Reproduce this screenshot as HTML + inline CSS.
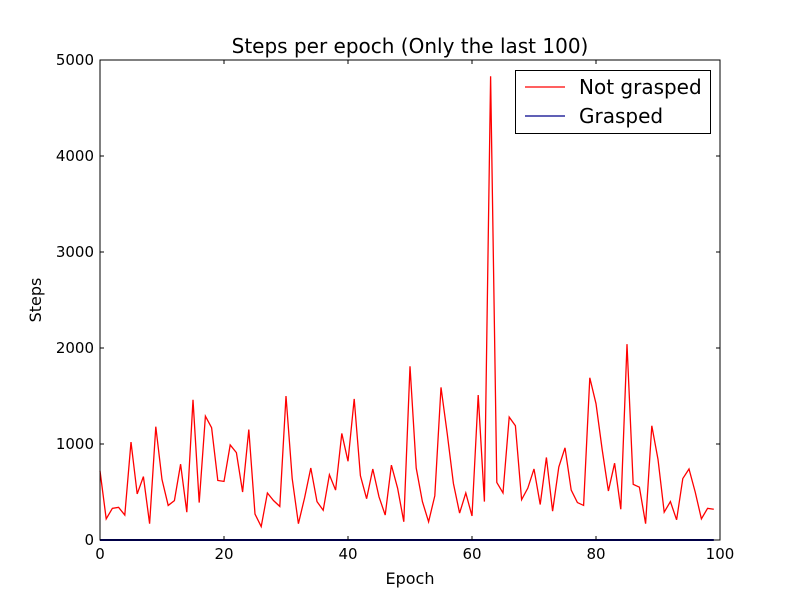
<!DOCTYPE html>
<html><head><meta charset="utf-8"><style>body{margin:0;background:#fff}svg{display:block;font-family:"DejaVu Sans","Liberation Sans",sans-serif}</style></head>
<body>
<svg id="chart" width="800" height="600">
<rect width="800" height="600" fill="#fff"/>
<g id="marks"></g>
<rect x="100" y="60" width="620" height="480" fill="none" stroke="#000" stroke-width="1"/>
<g id="ticks"></g>
<text x="410" y="53" text-anchor="middle" font-size="20">Steps per epoch (Only the last 100)</text>
<text x="410" y="584" text-anchor="middle" font-size="16">Epoch</text>
<text x="41" y="300" text-anchor="middle" font-size="16" transform="rotate(-90 41 300)">Steps</text>
<g>
<rect x="515.5" y="70.5" width="195" height="63" fill="#fff" stroke="#000"/>
<g><line x1="525" y1="87" x2="565" y2="87" stroke="red" stroke-width="1.3"/><text x="579" y="94" font-size="20">Not grasped</text></g>
<g><line x1="525" y1="116" x2="565" y2="116" stroke="#00008b" stroke-width="1.3"/><text x="579" y="123" font-size="20">Grasped</text></g>
</g>
</svg>
<script>
const notGrasped=[720,220,330,340,260,1020,480,660,170,1180,630,360,410,790,290,1460,390,1290,1170,620,610,990,910,500,1150,270,140,490,410,350,1500,640,170,440,750,400,310,680,520,1110,820,1470,670,430,740,450,260,780,540,190,1810,750,400,190,460,1590,1110,590,280,490,250,1510,400,4830,600,490,1280,1190,420,540,740,370,860,300,760,960,520,390,360,1690,1420,940,510,800,320,2040,580,550,170,1190,840,290,400,210,640,740,500,220,330,320];
const grasped=new Array(100).fill(0);
const xTicks=[0,20,40,60,80,100];
const yTicks=[0,1000,2000,3000,4000,5000];
const NS="http://www.w3.org/2000/svg";
const sx=v=>100+v*6.2, sy=v=>540-v*0.096;
const marks=document.getElementById('marks'), ticks=document.getElementById('ticks');
function line(arr,color,name,w){
 const p=document.createElementNS(NS,'polyline');
 p.setAttribute('points',arr.map((v,i)=>sx(i)+','+sy(v)).join(' '));
 p.setAttribute('fill','none');p.setAttribute('stroke',color);p.setAttribute('stroke-width',w);
 
 
 marks.appendChild(p);
}
line(notGrasped,'red','not-grasped-line','1.3');
line(grasped,'#00008b','grasped-line','2');
function mk(tag,attrs,txt){const e=document.createElementNS(NS,tag);for(const k in attrs)e.setAttribute(k,attrs[k]);if(txt!=null)e.textContent=txt;ticks.appendChild(e);return e;}
xTicks.forEach(t=>{const x=sx(t);
 mk('line',{x1:x,y1:540,x2:x,y2:536,stroke:'#000'});mk('line',{x1:x,y1:60,x2:x,y2:64,stroke:'#000'});
 const l=mk('text',{x:x,y:559,'text-anchor':'middle','font-size':15},t);
 
 
});
yTicks.forEach(t=>{const y=sy(t);
 mk('line',{x1:100,y1:y,x2:104,y2:y,stroke:'#000'});mk('line',{x1:720,y1:y,x2:716,y2:y,stroke:'#000'});
 const l=mk('text',{x:94,y:y+5,'text-anchor':'end','font-size':15},t);
 
 
});
</script>
</body></html>
